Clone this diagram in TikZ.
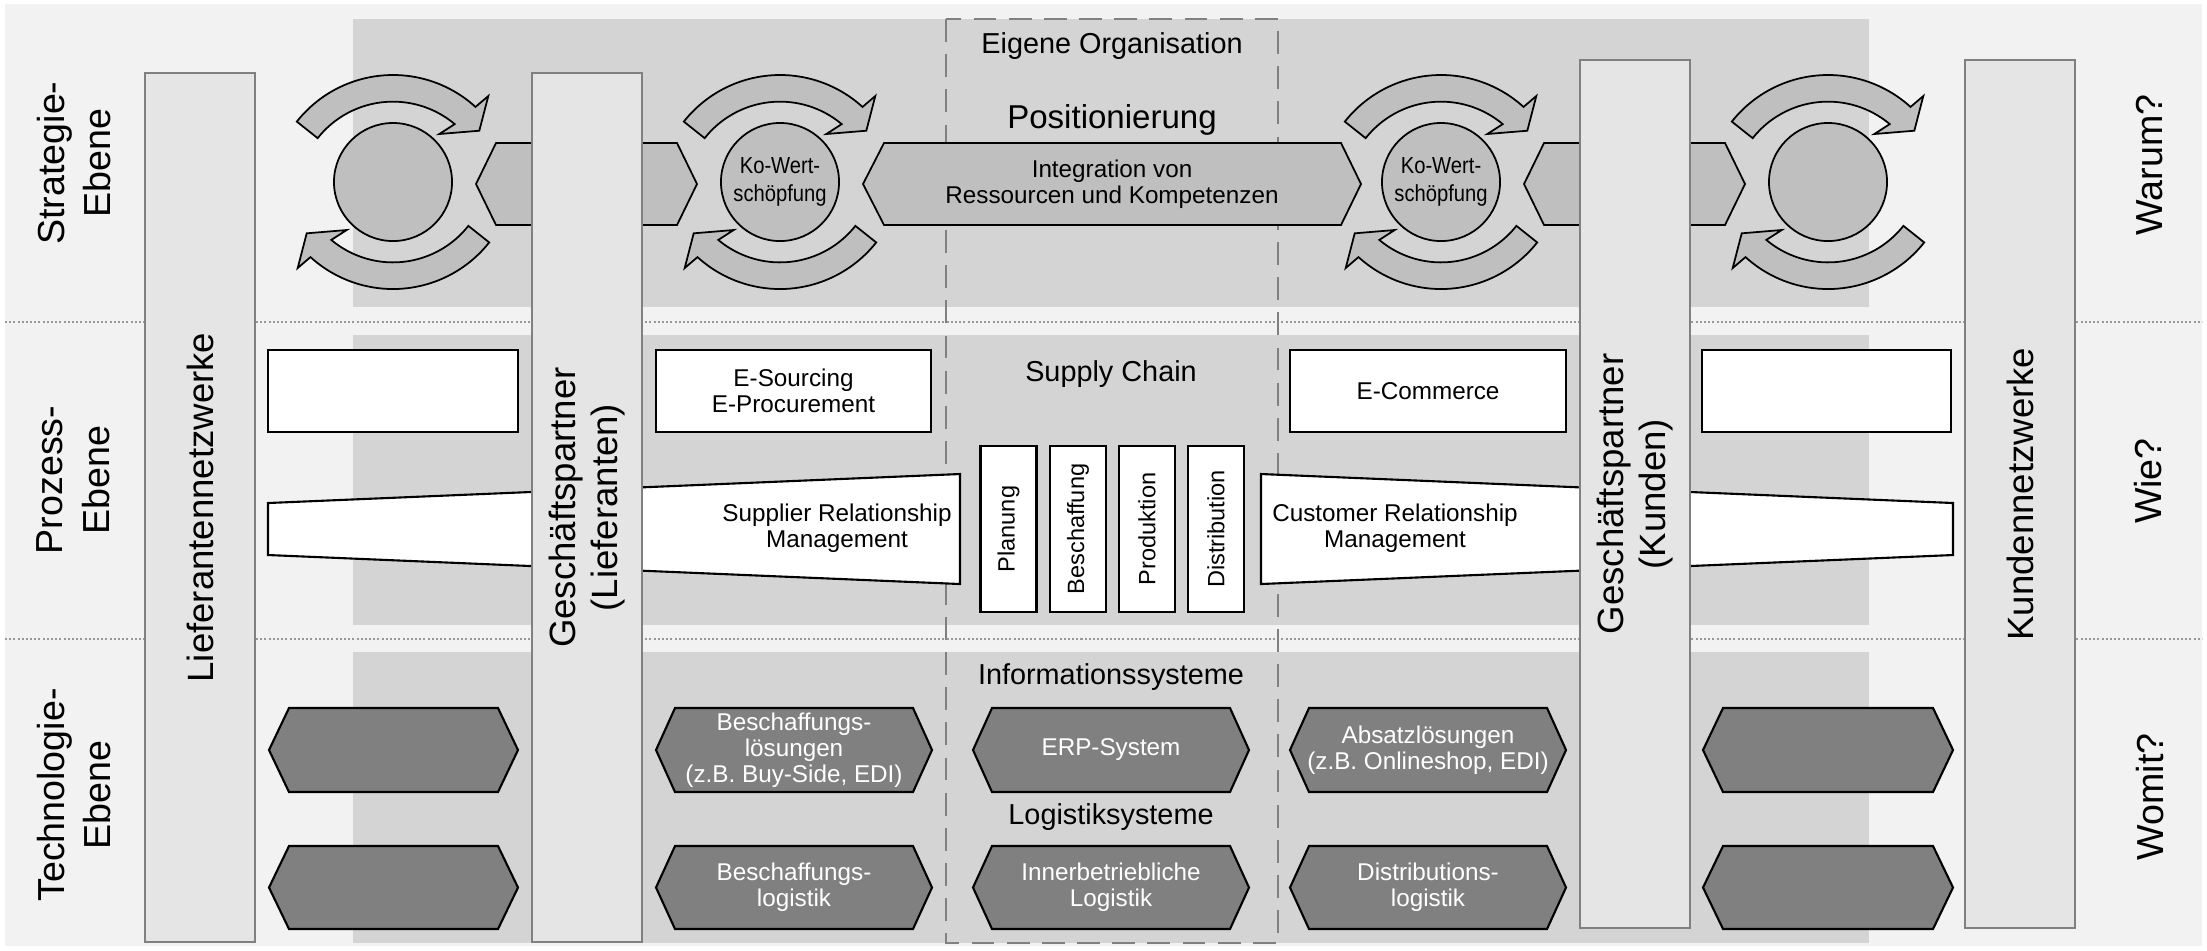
\documentclass[tikz,border=0pt]{standalone}
\usepackage{fontspec}
\setmainfont{Liberation Sans}
\newfontfamily\narrowfont{Liberation Sans}[FakeStretch=0.87]
\definecolor{pagegray}{gray}{0.95}
\definecolor{bandgray}{gray}{0.83}
\definecolor{bargray}{gray}{0.9}
\definecolor{shapegray}{gray}{0.75}
\definecolor{techgray}{gray}{0.5}
\definecolor{edgegray}{gray}{0.5}
\definecolor{dotgray}{gray}{0.6}

\begin{document}
\begin{tikzpicture}[x=0.01cm, y=-0.01cm,
    layerlabel/.style ={rotate=90, align=center, font=\fontsize{10.7}{13.3}\selectfont},
    partner/.style ={rectangle, draw=edgegray, fill=bargray, line width=0.55pt, rotate=90,
      minimum width=8.69cm, minimum height=1.1cm, align=center, font=\fontsize{10.4}{11.8}\selectfont},
    header/.style ={font=\fontsize{8.2}{9.5}\selectfont},
    owncompany/.style ={draw=edgegray, line width=0.75pt, dash pattern=on 6.5pt off 3.5pt},
    sepline/.style ={draw=dotgray, line width=0.6pt, dash pattern=on 0.57pt off 0.62pt},
    hexa/.style ={draw, fill=shapegray, line width=0.5pt},
    techhexa/.style ={draw, fill=techgray, line width=0.6pt},
    whitefill/.style ={draw, fill=white, line width=0.6pt},
    boxtext/.style ={align=center, font=\fontsize{6.9}{7.4}\selectfont},
    techtext/.style ={boxtext, text=white},
    procbox/.style ={rectangle, whitefill, minimum height=0.82cm, boxtext},
    scmbox/.style ={rectangle, whitefill, rotate=90, minimum width=1.66cm, minimum height=0.56cm,
      font=\fontsize{6.7}{7.5}\selectfont},
    valuecircle/.style ={circle, draw, fill=shapegray, line width=0.5pt, minimum size=1.18cm,
      inner sep=0pt, align=center, font=\narrowfont\fontsize{6.6}{8}\selectfont},
    roundarrow/.style ={draw, fill=shapegray, line width=0.5pt},
    cycarrows/.pic ={
      \begin{scope}[yscale=-1]
        \draw[roundarrow] (-96.2,60.4) arc[start angle=141.7, end angle=47.7, radius=122.6]
          -- (95.3,86) -- (86.3,51.3) -- (46.3,48) -- (61.7,57.9)
          arc[start angle=50, end angle=141.7, radius=96] -- cycle;
        \draw[roundarrow, rotate=180] (-96.2,60.4) arc[start angle=141.7, end angle=47.7, radius=122.6]
          -- (95.3,86) -- (86.3,51.3) -- (46.3,48) -- (61.7,57.9)
          arc[start angle=50, end angle=141.7, radius=96] -- cycle;
      \end{scope}
    }]
   \useasboundingbox (0,0) rectangle (2207,950);
   \fill[white] (0,0) rectangle (2207,950);
   \fill[pagegray] (5,4) rectangle (2202,946);
   \draw[sepline] (5,322) -- (2202,322);
   \draw[sepline] (5,639) -- (2202,639);
   \fill[bandgray] (353,19) rectangle (1869,307);
   \fill[bandgray] (353,335) rectangle (1869,625);
   \fill[bandgray] (353,652) rectangle (1869,943);
   \draw[owncompany] (946,19) rectangle (1278,943);

   \pic at (393,182) {cycarrows};
   \pic at (780,182) {cycarrows};
   \pic at (1441,182) {cycarrows};
   \pic at (1828,182) {cycarrows};
   \node[valuecircle] (c1) at (393,182) {};
   \node[valuecircle] (kw1) at (780,182) {Ko-Wert-\\schöpfung};
   \node[valuecircle] (kw2) at (1441,182) {Ko-Wert-\\schöpfung};
   \node[valuecircle] (c2) at (1828,182) {};
   \draw[hexa] (476,184) -- (496,143) -- (677,143) -- (697,184) -- (677,225) -- (496,225) -- cycle;
   \draw[hexa] (863,184) -- (884,143) -- (1341,143) -- (1361,184) -- (1341,225) -- (884,225) -- cycle;
   \draw[hexa] (1524,184) -- (1544,143) -- (1725,143) -- (1745,184) -- (1725,225) -- (1544,225) -- cycle;

   \node[procbox, minimum width=2.5cm] (pl) at (393,391) {};
   \node[procbox, minimum width=2.75cm] (esrc) at (793.5,391) {E-Sourcing\\E-Procurement};
   \node[procbox, minimum width=2.76cm] (ecom) at (1428,391) {E-Commerce};
   \node[procbox, minimum width=2.49cm] (pr) at (1826.5,391) {};
   \draw[whitefill] (268,503) -- (960,474) -- (960,584) -- (268,555) -- cycle;
   \draw[whitefill] (1261,474) -- (1953,503) -- (1953,555) -- (1261,584) -- cycle;
   \node[boxtext] (srm) at (837,528) {Supplier Relationship\\Management};
   \node[boxtext] (crm) at (1395,528) {Customer Relationship\\Management};
   \node[scmbox] (plan) at (1008.5,529) {Planung};
   \node[scmbox] (besch) at (1078,529) {Beschaffung};
   \node[scmbox] (prod) at (1147,529) {Produktion};
   \node[scmbox] (dist) at (1216,529) {Distribution};

   \draw[techhexa] (269,750) -- (289,708) -- (498,708) -- (518,750) -- (498,792) -- (289,792) -- cycle;
   \draw[techhexa] (656,750) -- (675,708) -- (913,708) -- (932,750) -- (913,792) -- (675,792) -- cycle;
   \draw[techhexa] (973,750) -- (992,708) -- (1230,708) -- (1249,750) -- (1230,792) -- (992,792) -- cycle;
   \draw[techhexa] (1290,750) -- (1309,708) -- (1547,708) -- (1566,750) -- (1547,792) -- (1309,792) -- cycle;
   \draw[techhexa] (1703,750) -- (1723,708) -- (1933,708) -- (1953,750) -- (1933,792) -- (1723,792) -- cycle;
   \draw[techhexa] (269,887.5) -- (289,846) -- (498,846) -- (518,887.5) -- (498,929) -- (289,929) -- cycle;
   \draw[techhexa] (656,887.5) -- (675,846) -- (913,846) -- (932,887.5) -- (913,929) -- (675,929) -- cycle;
   \draw[techhexa] (973,887.5) -- (992,846) -- (1230,846) -- (1249,887.5) -- (1230,929) -- (992,929) -- cycle;
   \draw[techhexa] (1290,887.5) -- (1309,846) -- (1547,846) -- (1566,887.5) -- (1547,929) -- (1309,929) -- cycle;
   \draw[techhexa] (1703,887.5) -- (1723,846) -- (1933,846) -- (1953,887.5) -- (1933,929) -- (1723,929) -- cycle;

   \node[partner] (lief) at (200,507.5) {Lieferantennetzwerke};
   \node[partner] (gpl) at (587,507.5) {Geschäftspartner\\(Lieferanten)};
   \node[partner, minimum width=8.68cm] (gpk) at (1635,494) {Geschäftspartner\\(Kunden)};
   \node[partner, minimum width=8.68cm] (kund) at (2020,494) {Kundennetzwerke};

   \node[header] (eigen) at (1112,46) {Eigene Organisation};
   \node[font=\fontsize{9.4}{11}\selectfont] (pos) at (1112,120) {Positionierung};
   \node[boxtext] (integ) at (1112,184) {Integration von\\Ressourcen und Kompetenzen};
   \node[header] (sc) at (1111,374) {Supply Chain};
   \node[header] (info) at (1111,677) {Informationssysteme};
   \node[header] (logi) at (1111,817) {Logistiksysteme};
   \node[techtext] (bl) at (794,750) {Beschaffungs-\\lösungen\\(z.B. Buy-Side, EDI)};
   \node[techtext] (erp) at (1111,750) {ERP-System};
   \node[techtext] (abs) at (1428,750) {Absatzlösungen\\(z.B. Onlineshop, EDI)};
   \node[techtext] (blog) at (794,887) {Beschaffungs-\\logistik};
   \node[techtext] (inner) at (1111,887) {Innerbetriebliche\\Logistik};
   \node[techtext] (dlog) at (1428,887) {Distributions-\\logistik};

   \node[layerlabel] (strat) at (74,163) {Strategie-\\Ebene};
   \node[layerlabel] (proz) at (73,480) {Prozess-\\Ebene};
   \node[layerlabel] (tech) at (74,795) {Technologie-\\Ebene};
   \node[layerlabel] (warum) at (2150,165) {Warum?};
   \node[layerlabel] (wie) at (2148,481) {Wie?};
   \node[layerlabel] (womit) at (2150,797) {Womit?};
 \end{tikzpicture}
\end{document}
